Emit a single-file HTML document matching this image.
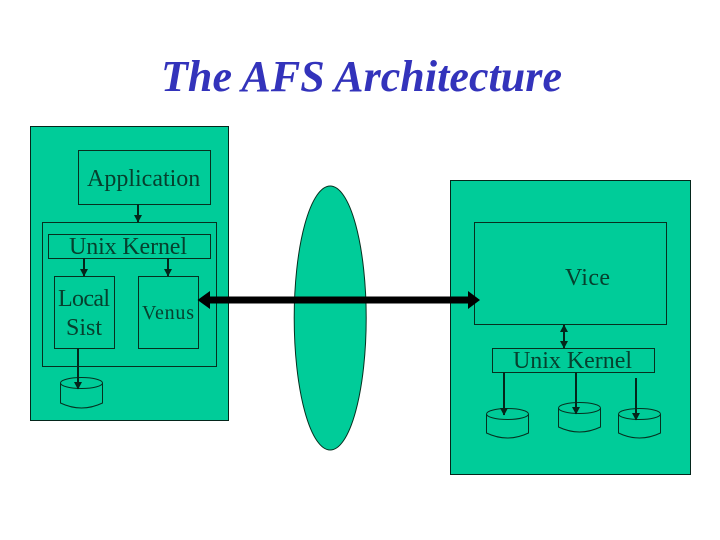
<!DOCTYPE html>
<html><head><meta charset="utf-8"><style>
html,body{margin:0;padding:0;background:#fff}
svg{display:block}
text{font-family:"Liberation Serif",serif;fill:#06402e}
</style></head><body>
<svg width="720" height="540" viewBox="0 0 720 540" xmlns="http://www.w3.org/2000/svg">
<defs>
<marker id="a" markerUnits="userSpaceOnUse" markerWidth="8" markerHeight="9" refX="7" refY="4" orient="auto-start-reverse"><path d="M0 0L7.500 4L0 8Z" fill="#04261b"/></marker>
</defs>
<text x="161" y="91" textLength="401" lengthAdjust="spacing" style="font-size:44px;font-style:italic;font-weight:700;fill:#3333bb">The AFS Architecture</text>
<g fill="#00cc99" stroke="#06301f" stroke-width="1">
<rect x="30.500" y="126.500" width="198" height="294" stroke="#04261b"/>
<rect x="78.500" y="150.500" width="132" height="54"/>
<rect x="42.500" y="222.500" width="174" height="144"/>
<rect x="48.500" y="234.500" width="162" height="24"/>
<rect x="54.500" y="276.500" width="60" height="72"/>
<rect x="138.500" y="276.500" width="60" height="72"/>
<path d="M60.500 383V403Q81.500 413 102.500 403V383"/>
<ellipse cx="81.500" cy="383" rx="21" ry="5.500"/>
<ellipse cx="330.200" cy="318" rx="36" ry="132"/>
<rect x="450.500" y="180.500" width="240" height="294" stroke="#04261b"/>
<rect x="474.500" y="222.500" width="192" height="102"/>
<rect x="492.500" y="348.500" width="162" height="24"/>
<path d="M486.500 414V433Q507.500 443 528.500 433V414"/>
<ellipse cx="507.500" cy="414" rx="21" ry="5.500"/>
<path d="M558.500 408V427Q579.500 437 600.500 427V408"/>
<ellipse cx="579.500" cy="408" rx="21" ry="5.500"/>
<path d="M618.500 414V433Q639.500 443 660.500 433V414"/>
<ellipse cx="639.500" cy="414" rx="21" ry="5.500"/>
</g>
<g fill="none" stroke="#04261b" stroke-width="2">
<path d="M138 204V222" marker-end="url(#a)"/>
<path d="M84 258V276" marker-end="url(#a)"/>
<path d="M168 258V276" marker-end="url(#a)"/>
<path d="M78 348V389" marker-end="url(#a)"/>
<path d="M564 325V348" marker-start="url(#a)" marker-end="url(#a)"/>
<path d="M504 372V415" marker-end="url(#a)"/>
<path d="M576 372V414" marker-end="url(#a)"/>
<path d="M636 378V420" marker-end="url(#a)"/>
</g>
<path d="M197.500 300L210 291V296.500H468V291L480 300L468 309V303.500H210V309Z" fill="#000"/>
<text x="87" y="186" style="font-size:24px">Application</text>
<text x="69" y="254" textLength="118" lengthAdjust="spacing" style="font-size:24px">Unix Kernel</text>
<text x="58" y="306" textLength="52" lengthAdjust="spacing" style="font-size:24px">Local</text>
<text x="66" y="335" style="font-size:24px">Sist</text>
<text x="142" y="319" textLength="52" lengthAdjust="spacing" style="font-size:20px">Venus</text>
<text x="565" y="285" textLength="45" lengthAdjust="spacing" style="font-size:24px">Vice</text>
<text x="513" y="368" textLength="119" lengthAdjust="spacing" style="font-size:24px">Unix Kernel</text>
</svg>
</body></html>
